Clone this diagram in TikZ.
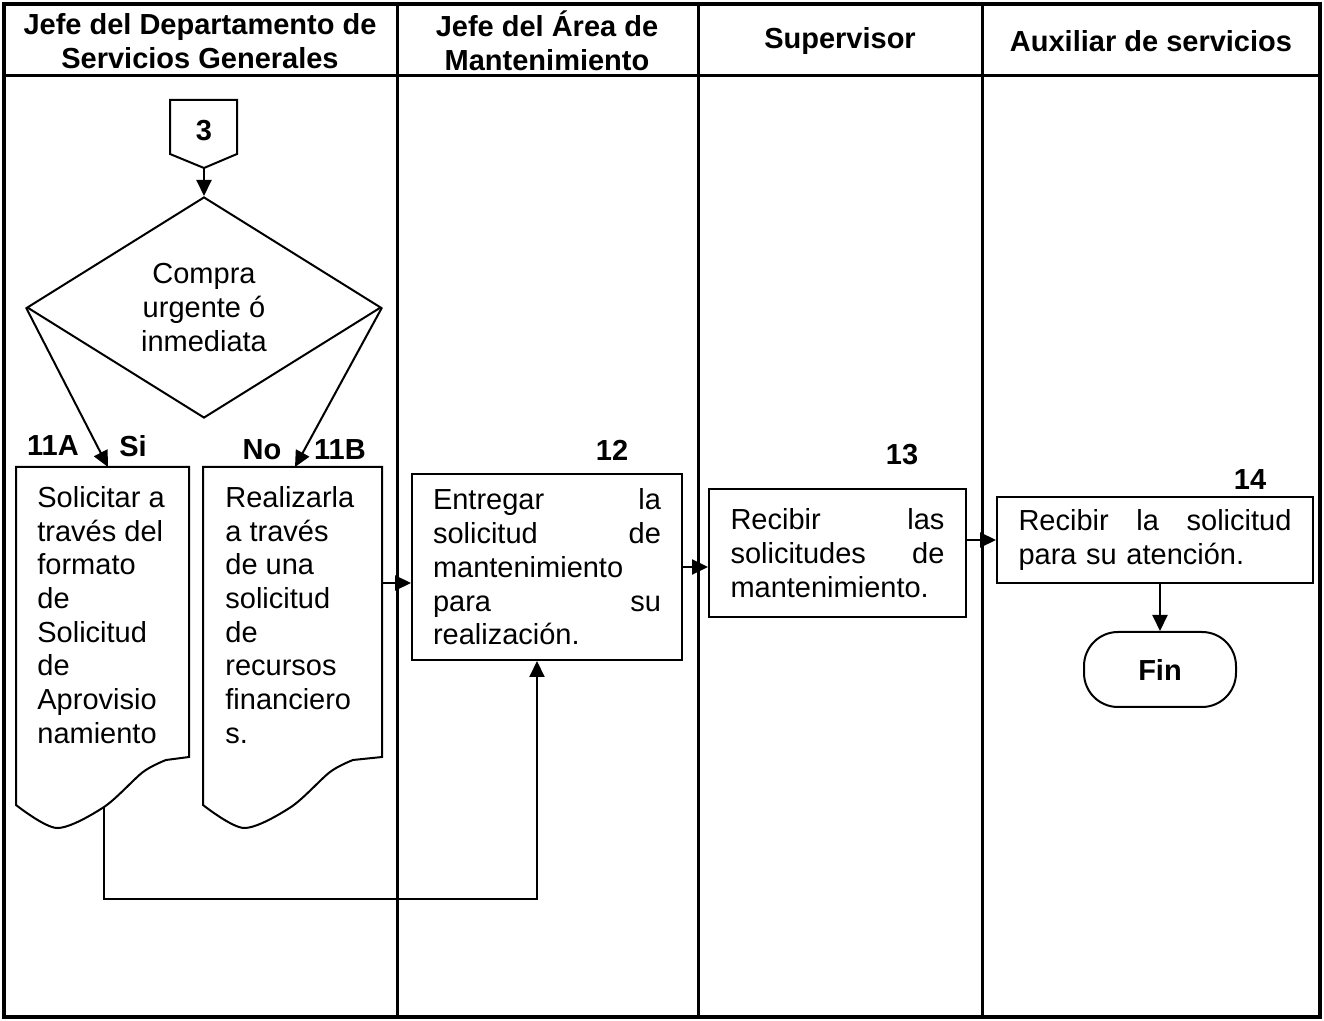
\documentclass[tikz,border=0pt]{standalone}
\usepackage{fontspec}
\setmainfont{Liberation Sans}
\usetikzlibrary{arrows.meta,shapes.geometric}

\tikzset{
  linea/.style={line width=1pt},
  flecha/.style={line width=1pt,-{Triangle[length=8pt,width=7.5pt]}},
  texto/.style={font=\fontsize{14.5}{16.85}\selectfont},
  titulo/.style={font=\bfseries\fontsize{14.5}{17}\selectfont,align=center},
  numero/.style={font=\bfseries\fontsize{14.5}{17}\selectfont},
  caja/.style={draw,linea,texto,align=left,inner ysep=0pt},
}

\begin{document}
\begin{tikzpicture}[x=0.5pt,y=-0.5pt]
    \useasboundingbox (0,0) rectangle (1324,1021);
    % Table and columns
    \draw[line width=2pt] (4,4) rectangle (1320,1017);
    \draw[line width=1.5pt] (4,76) -- (1320,76);
    \draw[line width=1.5pt] (397,4) -- (397,1017);
    \draw[line width=1.5pt] (698,4) -- (698,1017);
    \draw[line width=1.5pt] (982,4) -- (982,1017);

    % Headers
    \node[titulo] (col1) at (200,41) {Jefe del Departamento de\\Servicios Generales};
    \node[titulo] (col2) at (547,41) {Jefe del Área de\\Mantenimiento};
    \node[titulo] (col3) at (840,41) {Supervisor};
    \node[titulo] (col4) at (1151,41) {Auxiliar de servicios};

    % Connector and decision
    \draw[linea] (170,100) -- (237,100) -- (237,154) -- (204,168) -- (170,154) -- cycle;
    \node[numero] (ref3) at (204,131) {3};
    \coordinate (punta3) at (204,168);
    \node[draw,linea,diamond,minimum width=177pt,minimum height=110.5pt,inner sep=0pt,texto,align=center] (decision) at (204,307.5) {Compra\\urgente ó\\inmediata};
    \draw[flecha] (punta3) -- (decision.north);

    % Documents
    \draw[linea] (16,467) -- (16,805) -- plot[smooth] coordinates {(16,805) (57,828) (104,807) (143,772) (166,760)} -- (189,757) -- (189,467) -- cycle;
    \draw[linea] (203,467) -- (203,805) -- plot[smooth] coordinates {(203,805) (244,828) (291,807) (330,772) (353,760)} -- (382,757) -- (382,467) -- cycle;
    \node[texto,align=left,inner sep=0pt,anchor=west] (docA) at (37,615) {Solicitar a\\través del\\formato\\de\\Solicitud\\de\\Aprovisio\\namiento};
    \node[texto,align=left,inner sep=0pt,anchor=west] (docB) at (225,615) {Realizarla\\a través\\de una\\solicitud\\de\\recursos\\financiero\\s.};
    \coordinate (entradaA) at (108,467);
    \coordinate (entradaB) at (295,467);
    \draw[flecha] (decision.west) -- (entradaA);
    \draw[flecha] (decision.east) -- (entradaB);

    % Labels
    \node[numero] (n11A) at (53,446) {11A};
    \node[numero] (si) at (133,446) {Si};
    \node[numero] (no) at (262,450) {No};
    \node[numero] (n11B) at (340,450) {11B};
    \node[numero] (n12) at (612,450) {12};
    \node[numero] (n13) at (902,455) {13};
    \node[numero] (n14) at (1250,480) {14};

    % Activities
    \node[caja,text width=114pt,inner xsep=10.5pt,minimum height=93pt] (act12) at (547,567) {Entregar\hfill la\\solicitud\hfill de\\mantenimiento\\para\hfill su\\realización.};
    \node[caja,text width=107pt,inner xsep=10.75pt,minimum height=64pt] (act13) at (837.5,553) {Recibir\hfill las\\solicitudes\hfill de\\mantenimiento.};
    \node[caja,text width=136.5pt,inner xsep=10.75pt,minimum height=43pt] (act14) at (1155,540) {Recibir\hfill la\hfill solicitud\\para su atención.};
    \node[draw,linea,rounded corners=17pt,minimum width=76pt,minimum height=37.5pt,numero] (fin) at (1160,669.5) {Fin};

    % Connectors
    \coordinate (salidaA) at (104,807);
    \coordinate (salidaB) at (382,583);
    \coordinate (retorno) at (537,899);
    \draw[flecha] (salidaB) -- (salidaB -| act12.west);
    \draw[flecha] (act12.east) -- (act12.east -| act13.west);
    \draw[flecha] (act14.west -| act13.east) -- (act14.west);
    \draw[flecha] (fin.north |- act14.south) -- (fin.north);
    \draw[flecha] (salidaA) |- (retorno) -- (retorno |- act12.south);
\end{tikzpicture}
\end{document}
